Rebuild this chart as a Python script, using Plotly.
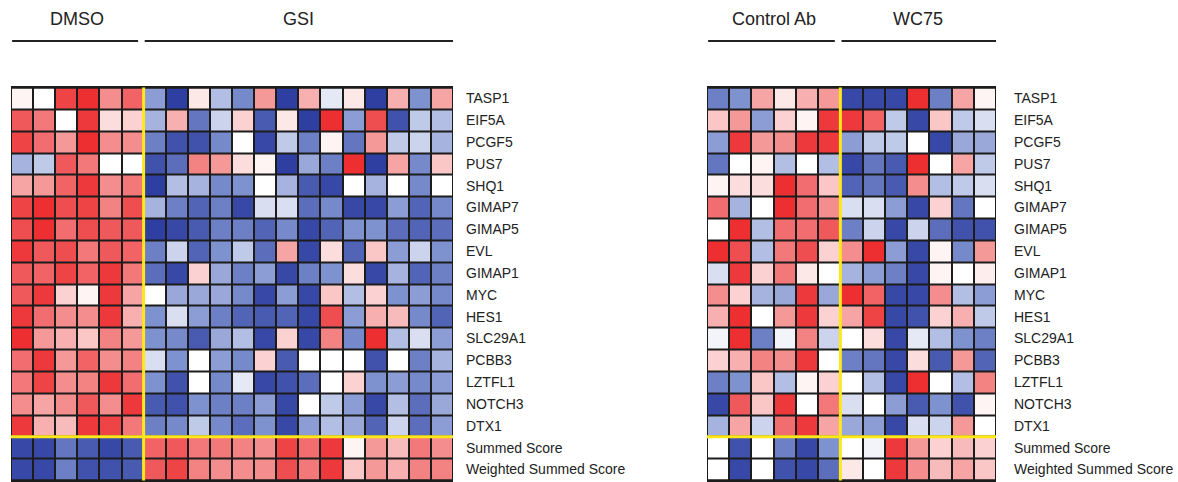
import plotly.graph_objects as go

# ---------------- data ----------------
genes = ["TASP1", "EIF5A", "PCGF5", "PUS7", "SHQ1", "GIMAP7", "GIMAP5", "EVL",
         "GIMAP1", "MYC", "HES1", "SLC29A1", "PCBB3", "LZTFL1", "NOTCH3", "DTX1"]
score_rows = ["Summed Score", "Weighted Summed Score"]

left_groups = [("DMSO", 6), ("GSI", 14)]
right_groups = [("Control Ab", 6), ("WC75", 7)]

# relative expression (-1 = blue, 0 = white, +1 = red), rows = genes, cols = samples
left_gene_values = [
    [0.05, 0.0, 0.85, 0.95, 0.5, 0.7, -0.45, -0.95, 0.1, -0.3, -0.55, 0.45, -0.95, 0.35, -0.1, 0.1, -0.95, 0.35, -0.5, 0.4],
    [0.75, 0.6, 0.0, 0.9, 0.15, 0.2, -0.35, 0.35, -0.65, -0.2, 0.2, -0.8, 0.1, -0.95, 0.95, -0.45, 0.8, -0.85, -0.25, -0.3],
    [0.85, 0.65, 0.45, 0.95, 0.5, 0.5, -0.6, -0.85, -0.85, -0.55, 0.0, -0.9, -0.25, -0.6, 0.05, -0.65, 0.45, -0.25, -0.2, -0.35],
    [-0.35, -0.25, 0.75, 0.6, 0.0, 0.0, -0.85, -0.7, 0.55, 0.45, 0.15, 0.05, -0.95, -0.4, -0.6, 0.95, -0.95, 0.4, -0.55, 0.25],
    [0.4, 0.45, 0.7, 0.9, 0.5, 0.6, -0.95, -0.3, -0.35, -0.55, -0.5, 0.0, -0.35, -0.8, -0.9, 0.0, -0.35, 0.0, -0.55, 0.0],
    [0.85, 0.95, 0.8, 0.85, 0.55, 0.8, -0.35, -0.6, -0.75, -0.6, -0.9, -0.15, -0.15, -0.7, -0.55, -0.9, -0.9, -0.45, -0.75, -0.55],
    [0.8, 0.95, 0.65, 0.8, 0.75, 0.75, -0.95, -0.9, -0.8, -0.6, -0.6, -0.75, -0.55, -0.9, -0.75, -0.5, -0.5, -0.7, -0.75, -0.7],
    [0.9, 0.75, 0.8, 0.6, 0.75, 0.7, -0.6, -0.2, -0.75, -0.5, -0.25, -0.7, 0.4, -0.9, 0.15, -0.75, 0.25, -0.45, -0.2, -0.5],
    [0.75, 0.7, 0.85, 0.7, 0.9, 0.6, -0.7, -0.9, 0.2, -0.4, -0.6, -0.45, -0.9, -0.6, -0.5, 0.15, -0.9, -0.35, -0.75, -0.6],
    [0.75, 0.9, 0.2, 0.05, 0.9, 0.4, 0.0, -0.4, -0.4, -0.4, -0.55, -0.9, -0.45, -0.9, 0.25, -0.3, 0.2, -0.5, -0.45, -0.55],
    [0.9, 0.65, 0.5, 0.5, 0.9, 0.35, -0.5, -0.15, -0.45, -0.6, -0.75, -0.8, -0.75, -0.9, 0.8, -0.45, 0.35, 0.3, -0.55, -0.75],
    [0.95, 0.45, 0.35, 0.25, 0.55, 0.45, -0.5, -0.55, -0.8, -0.4, -0.3, -0.9, 0.2, -0.9, 0.55, -0.55, 0.95, -0.3, -0.15, -0.45],
    [0.65, 0.9, 0.45, 0.7, 0.5, 0.55, -0.15, -0.5, 0.0, -0.45, -0.55, 0.2, -0.8, 0.0, 0.0, 0.0, -0.85, 0.0, -0.6, -0.35],
    [0.6, 0.85, 0.5, 0.55, 0.9, 0.65, -0.5, -0.85, 0.0, -0.55, -0.1, -0.9, -0.85, -0.7, 0.0, 0.2, -0.5, -0.45, -0.55, -0.45],
    [0.5, 0.4, 0.5, 0.75, 0.5, 0.9, -0.8, -0.85, -0.5, -0.6, -0.6, -0.45, -0.9, 0.0, -0.25, -0.45, -0.9, -0.3, -0.7, -0.4],
    [0.9, 0.35, 0.3, 0.9, 0.85, 0.6, -0.6, -0.55, -0.25, -0.55, -0.7, -0.5, -0.9, -0.45, -0.3, -0.4, -0.75, -0.2, -0.7, -0.45],
]
left_summed = [-0.9, -0.9, -0.65, -0.8, -0.9, -0.8, 0.7, 0.75, 0.6, 0.6, 0.55, 0.5, 0.85, 0.65, 0.9, 0.05, 0.45, 0.3, 0.6, 0.5]
left_weighted = [-0.9, -0.9, -0.6, -0.85, -0.85, -0.8, 0.75, 0.85, 0.55, 0.5, 0.5, 0.5, 0.8, 0.6, 0.9, 0.25, 0.45, 0.35, 0.55, 0.55]

right_gene_values = [
    [-0.6, -0.5, 0.4, 0.1, 0.35, 0.45, -0.9, -0.9, -0.9, 0.95, -0.6, 0.4, 0.05],
    [0.25, 0.45, -0.45, 0.2, 0.05, 0.9, 0.9, 0.7, -0.25, -0.9, 0.25, -0.25, -0.15],
    [-0.45, 0.9, 0.45, 0.5, 0.9, 0.9, -0.45, -0.25, -0.25, 0.0, -0.9, -0.4, -0.4],
    [-0.65, 0.0, 0.05, -0.3, 0.0, -0.3, -0.9, -0.65, -0.8, 0.95, 0.0, 0.4, -0.25],
    [0.05, 0.15, 0.15, 0.95, 0.65, 0.25, -0.75, -0.65, -0.8, 0.5, -0.3, -0.25, -0.15],
    [0.65, -0.35, 0.0, 0.95, 0.65, 0.5, -0.15, -0.15, -0.45, -0.9, 0.2, -0.65, 0.0],
    [0.0, 0.95, -0.3, 0.65, 0.65, 0.75, -0.6, -0.2, -0.9, -0.2, -0.7, -0.85, -0.85],
    [0.95, 0.8, -0.3, 0.6, 0.8, 0.2, 0.5, 0.95, -0.45, -0.9, 0.05, -0.55, 0.45],
    [-0.15, 0.9, 0.2, 0.6, 0.1, 0.0, -0.35, -0.45, -0.6, -0.9, 0.05, 0.0, 0.08],
    [0.5, 0.2, -0.35, -0.4, 0.9, -0.4, 0.95, 0.7, -0.9, -0.9, 0.5, -0.3, -0.45],
    [0.35, 0.95, 0.0, 0.45, 0.9, 0.2, 0.4, 0.85, -0.9, -0.85, 0.2, 0.35, -0.25],
    [-0.05, 0.95, -0.6, -0.05, 0.55, -0.2, 0.0, 0.15, -0.9, -0.1, -0.3, -0.5, -0.6],
    [0.2, 0.35, 0.55, 0.5, 0.9, 0.0, -0.6, -0.65, -0.9, 0.15, -0.8, 0.45, -0.75],
    [-0.6, -0.5, 0.25, -0.3, 0.05, 0.2, 0.0, -0.3, -0.9, 0.95, 0.0, -0.3, 0.55],
    [-0.9, 0.75, 0.25, 0.9, 0.0, 0.6, -0.15, 0.0, -0.45, -0.8, -0.5, -0.85, 0.05],
    [-0.35, 0.4, -0.2, 0.65, 0.9, 0.4, -0.4, -0.45, -0.9, -0.15, -0.2, 0.45, 0.0],
]
right_summed = [0.0, -0.85, 0.0, -0.6, -0.9, -0.5, 0.0, -0.05, 0.9, 0.45, 0.2, 0.3, 0.2]
right_weighted = [0.0, -0.9, 0.0, -0.85, -0.9, -0.7, 0.1, 0.0, 0.9, 0.5, 0.3, 0.4, 0.25]

# ---------------- styling ----------------
W, H = 1178, 482
FONT = "Liberation Sans, Arial, Helvetica, sans-serif"
GRID = "#1c1c1c"
YELLOW = "#ffe81a"
colorscale = [[0.0, "#25369c"], [0.25, "#7f92d0"], [0.5, "#ffffff"],
              [0.75, "#f48d8d"], [1.0, "#ec2428"]]
rows = genes + score_rows
ydom = [0.0, (H - 86) / H]

fig = go.Figure()


def add_panel(idx, gene_vals, summed, weighted, groups, xdom, standoff):
    xa = "x" if idx == 1 else f"x{idx}"
    ya = "y" if idx == 1 else f"y{idx}"
    n = sum(c for _, c in groups)
    z = [list(r) for r in gene_vals] + [summed, weighted]
    fig.add_trace(go.Heatmap(
        z=z, x=list(range(n)), y=rows, xaxis=xa, yaxis=ya,
        colorscale=colorscale, zmin=-1, zmax=1, showscale=False,
        xgap=2, ygap=2, hoverinfo="skip"))
    xkey = "xaxis" if idx == 1 else f"xaxis{idx}"
    ykey = "yaxis" if idx == 1 else f"yaxis{idx}"
    fig.update_layout({
        xkey: dict(domain=xdom, range=[-0.5, n - 0.5], visible=False,
                   anchor=ya, fixedrange=True),
        ykey: dict(domain=ydom, type="category", autorange="reversed",
                   side="right", anchor=xa, ticks="", showgrid=False,
                   zeroline=False, showline=False, ticklabelstandoff=standoff,
                   tickfont=dict(family=FONT, size=14, color="#222222")),
    })
    nr = len(rows)
    # outer border
    fig.add_shape(type="rect", xref=xa, yref=ya, x0=-0.5, x1=n - 0.5,
                  y0=-0.5, y1=nr - 0.5, line=dict(color=GRID, width=2))
    # yellow separators
    first = groups[0][1]
    fig.add_shape(type="line", xref=xa, yref=ya, x0=first - 0.5, x1=first - 0.5,
                  y0=-0.5, y1=nr - 0.5, line=dict(color=YELLOW, width=3))
    fig.add_shape(type="line", xref=xa, yref=ya, x0=-0.5, x1=n - 0.5,
                  y0=len(genes) - 0.5, y1=len(genes) - 0.5,
                  line=dict(color=YELLOW, width=3))
    # group headers
    start = 0
    for gi, (name, cnt) in enumerate(groups):
        last = gi == len(groups) - 1
        x0 = start - 0.45
        x1 = start + cnt - 0.5 + (0.05 if last else -0.25)
        fig.add_shape(type="line", xref=xa, yref="paper", x0=x0, x1=x1,
                      y0=1 - 41 / H, y1=1 - 41 / H,
                      line=dict(color="#222222", width=2))
        fig.add_annotation(x=start + (cnt - 1) / 2, y=1 - 19 / H, xref=xa,
                           yref="paper", text=name, showarrow=False,
                           font=dict(family=FONT, size=18, color="#222222"),
                           xanchor="center", yanchor="middle")
        start += cnt


add_panel(1, left_gene_values, left_summed, left_weighted, left_groups,
          [11 / W, 453 / W], 12)
add_panel(2, right_gene_values, right_summed, right_weighted, right_groups,
          [707 / W, 996 / W], 17)

fig.update_layout(
    width=W, height=H,
    margin=dict(l=0, r=0, t=0, b=0),
    paper_bgcolor="white",
    plot_bgcolor=GRID,
    showlegend=False,
    font=dict(family=FONT),
)

fig.write_html(
    "out.html",
    config={"displayModeBar": False, "staticPlot": True},
    post_script="document.body.style.margin='0';document.body.style.overflow='hidden';",
)
